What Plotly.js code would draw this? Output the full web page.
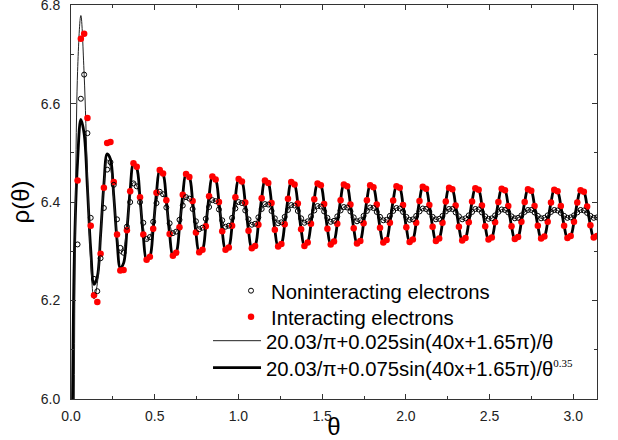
<!DOCTYPE html>
<html>
<head>
<meta charset="utf-8">
<script src="https://cdn.plot.ly/plotly-3.0.1.min.js"></script>
<style>html,body{margin:0;padding:0;background:#fff;}#chart{width:618px;height:440px;}</style>
</head>
<body>
<div id="chart"></div>
<script>
// Samples are evenly spaced in theta: theta_k = k * STEP, k = 0..160
const STEP = Math.PI / 160;

// Noninteracting electrons (open circles)
const NONINTERACTING = [
  null, null, 6.314, 6.610, 6.659, 6.540, 6.368, 6.244,
  6.219, 6.286, 6.388, 6.466, 6.481, 6.435, 6.365, 6.307,
  6.297, 6.350, 6.400, 6.438, 6.432, 6.400, 6.358, 6.325,
  6.329, 6.360, 6.398, 6.421, 6.416, 6.389, 6.357, 6.337,
  6.340, 6.364, 6.393, 6.410, 6.407, 6.386, 6.361, 6.345,
  6.348, 6.366, 6.390, 6.404, 6.402, 6.385, 6.363, 6.350,
  6.352, 6.368, 6.387, 6.400, 6.398, 6.383, 6.365, 6.354,
  6.356, 6.369, 6.386, 6.396, 6.395, 6.382, 6.367, 6.357,
  6.359, 6.370, 6.384, 6.394, 6.393, 6.382, 6.367, 6.358,
  6.361, 6.371, 6.383, 6.392, 6.391, 6.381, 6.368, 6.360,
  6.362, 6.371, 6.383, 6.390, 6.389, 6.381, 6.369, 6.361,
  6.363, 6.372, 6.382, 6.389, 6.388, 6.380, 6.370, 6.363,
  6.364, 6.372, 6.382, 6.388, 6.387, 6.380, 6.370, 6.364,
  6.365, 6.372, 6.381, 6.387, 6.386, 6.380, 6.370, 6.365,
  6.366, 6.372, 6.381, 6.386, 6.386, 6.379, 6.371, 6.365,
  6.367, 6.373, 6.380, 6.386, 6.385, 6.379, 6.371, 6.366,
  6.367, 6.373, 6.380, 6.385, 6.384, 6.379, 6.371, 6.367,
  6.368, 6.373, 6.380, 6.384, 6.384, 6.379, 6.372, 6.367,
  6.368, 6.373, 6.380, 6.384, 6.383, 6.378, 6.372, 6.368,
  6.369, 6.373, 6.379, 6.384, 6.383, 6.378, 6.372, 6.368,
  6.369
];

// Interacting electrons (red dots)
const INTERACTING = [
  null, null, 6.444, 6.732, 6.742, 6.571, 6.352, 6.211,
  6.197, 6.295, 6.429, 6.520, 6.522, 6.441, 6.334, 6.261,
  6.262, 6.343, 6.422, 6.479, 6.472, 6.410, 6.334, 6.283,
  6.289, 6.346, 6.419, 6.465, 6.458, 6.404, 6.335, 6.291,
  6.297, 6.349, 6.415, 6.457, 6.451, 6.402, 6.338, 6.298,
  6.303, 6.351, 6.412, 6.452, 6.446, 6.400, 6.341, 6.303,
  6.308, 6.352, 6.410, 6.447, 6.442, 6.399, 6.342, 6.306,
  6.311, 6.354, 6.408, 6.444, 6.439, 6.398, 6.344, 6.310,
  6.315, 6.355, 6.407, 6.441, 6.436, 6.397, 6.345, 6.311,
  6.318, 6.356, 6.406, 6.438, 6.434, 6.396, 6.346, 6.314,
  6.320, 6.356, 6.404, 6.436, 6.432, 6.395, 6.347, 6.316,
  6.321, 6.357, 6.404, 6.434, 6.430, 6.395, 6.348, 6.318,
  6.323, 6.358, 6.403, 6.432, 6.429, 6.394, 6.349, 6.319,
  6.324, 6.358, 6.402, 6.431, 6.427, 6.394, 6.350, 6.321,
  6.326, 6.358, 6.401, 6.429, 6.426, 6.393, 6.350, 6.322,
  6.327, 6.359, 6.401, 6.428, 6.425, 6.393, 6.351, 6.324,
  6.328, 6.359, 6.400, 6.427, 6.424, 6.392, 6.351, 6.325,
  6.329, 6.360, 6.400, 6.426, 6.423, 6.392, 6.352, 6.326,
  6.330, 6.360, 6.399, 6.425, 6.422, 6.392, 6.352, 6.327,
  6.331, 6.360, 6.399, 6.424, 6.421, 6.391, 6.353, 6.328,
  6.331
];

// Thin fitted curve
const FIT_THIN = [
  null, 5.982, 6.665, 6.779, 6.659, 6.455, 6.279, 6.203,
  6.234, 6.332, 6.434, 6.486, 6.470, 6.406, 6.335, 6.295,
  6.305, 6.353, 6.408, 6.440, 6.433, 6.395, 6.350, 6.323,
  6.329, 6.360, 6.398, 6.421, 6.416, 6.389, 6.357, 6.337,
  6.340, 6.364, 6.393, 6.410, 6.407, 6.386, 6.361, 6.345,
  6.348, 6.366, 6.390, 6.404, 6.402, 6.385, 6.363, 6.350,
  6.352, 6.368, 6.387, 6.400, 6.398, 6.383, 6.365, 6.354,
  6.356, 6.369, 6.386, 6.396, 6.395, 6.382, 6.367, 6.357,
  6.359, 6.370, 6.384, 6.394, 6.393, 6.382, 6.367, 6.358,
  6.361, 6.371, 6.383, 6.392, 6.391, 6.381, 6.368, 6.360,
  6.362, 6.371, 6.383, 6.390, 6.389, 6.381, 6.369, 6.361,
  6.363, 6.372, 6.382, 6.389, 6.388, 6.380, 6.370, 6.363,
  6.364, 6.372, 6.382, 6.388, 6.387, 6.380, 6.370, 6.364,
  6.365, 6.372, 6.381, 6.387, 6.386, 6.380, 6.370, 6.365,
  6.366, 6.372, 6.381, 6.386, 6.386, 6.379, 6.371, 6.365,
  6.367, 6.373, 6.380, 6.386, 6.385, 6.379, 6.371, 6.366,
  6.367, 6.373, 6.380, 6.385, 6.384, 6.379, 6.371, 6.367,
  6.368, 6.373, 6.380, 6.384, 6.384, 6.379, 6.372, 6.367,
  6.368, 6.373, 6.380, 6.384, 6.383, 6.378, 6.372, 6.368,
  6.369, 6.373, 6.379, 6.384, 6.383, 6.378, 6.372, 6.368,
  6.369
];

// Thick fitted curve (first point lies below the axis)
const FIT_THICK = [
  5.500, 6.284, 6.482, 6.568, 6.539, 6.428, 6.304, 6.233,
  6.248, 6.333, 6.436, 6.498, 6.487, 6.413, 6.322, 6.266,
  6.276, 6.342, 6.425, 6.477, 6.469, 6.407, 6.330, 6.282,
  6.289, 6.346, 6.419, 6.465, 6.458, 6.404, 6.335, 6.291,
  6.297, 6.349, 6.415, 6.457, 6.451, 6.402, 6.338, 6.298,
  6.303, 6.351, 6.412, 6.452, 6.446, 6.400, 6.341, 6.303,
  6.308, 6.352, 6.410, 6.447, 6.442, 6.399, 6.342, 6.306,
  6.311, 6.354, 6.408, 6.444, 6.439, 6.398, 6.344, 6.310,
  6.315, 6.355, 6.407, 6.441, 6.436, 6.397, 6.345, 6.311,
  6.318, 6.356, 6.406, 6.438, 6.434, 6.396, 6.346, 6.314,
  6.320, 6.356, 6.404, 6.436, 6.432, 6.395, 6.347, 6.316,
  6.321, 6.357, 6.404, 6.434, 6.430, 6.395, 6.348, 6.318,
  6.323, 6.358, 6.403, 6.432, 6.429, 6.394, 6.349, 6.319,
  6.324, 6.358, 6.402, 6.431, 6.427, 6.394, 6.350, 6.321,
  6.326, 6.358, 6.401, 6.429, 6.426, 6.393, 6.350, 6.322,
  6.327, 6.359, 6.401, 6.428, 6.425, 6.393, 6.351, 6.324,
  6.328, 6.359, 6.400, 6.427, 6.424, 6.392, 6.351, 6.325,
  6.329, 6.360, 6.400, 6.426, 6.423, 6.392, 6.352, 6.326,
  6.330, 6.360, 6.399, 6.425, 6.422, 6.392, 6.352, 6.327,
  6.331, 6.360, 6.399, 6.424, 6.421, 6.391, 6.353, 6.328,
  6.331
];

const NAMES = [
  'Noninteracting electrons',
  'Interacting electrons',
  '20.03/π+0.025sin(40x+1.65π)/θ',
  '20.03/π+0.075sin(40x+1.65π)/θ<sup><span style="font-family:Liberation Serif;font-size:11px">0.35</span></sup>'
];

const FONT = 'Liberation Sans, Arial, sans-serif';

const traces = [
  {
    type: 'scatter', mode: 'lines', name: NAMES[3], legend: 'legend4',
    x0: 0, dx: STEP, y: FIT_THICK,
    line: {color: '#000', width: 2.8, shape: 'spline', smoothing: 1}
  },
  {
    type: 'scatter', mode: 'lines', name: NAMES[2], legend: 'legend3',
    x0: 0, dx: STEP, y: FIT_THIN,
    line: {color: '#222', width: 1, shape: 'spline', smoothing: 1}
  },
  {
    type: 'scatter', mode: 'markers', name: NAMES[1], legend: 'legend2',
    x0: 0, dx: STEP, y: INTERACTING,
    marker: {symbol: 'circle', color: '#ff0000', size: 6.5, line: {width: 0}}
  },
  {
    type: 'scatter', mode: 'markers', name: NAMES[0], legend: 'legend',
    x0: 0, dx: STEP, y: NONINTERACTING,
    marker: {symbol: 'circle-open', color: '#000', size: 5, line: {width: 1, color: '#000'}}
  }
];

const axisCommon = {
  showgrid: false, zeroline: false,
  showline: true, linecolor: '#333', linewidth: 1, mirror: 'ticks',
  ticks: 'inside', ticklen: 5, tickwidth: 1, tickcolor: '#333',
  tickfont: {family: FONT, size: 14, color: '#222'},
  tickformat: '.1f',
  ticklabeloverflow: 'allow'
};

function legendAt(x, y, w) {
  return {
    x: x, y: y, xanchor: 'left', yanchor: 'top',
    bgcolor: 'rgba(0,0,0,0)', borderwidth: 0,
    itemwidth: w, tracegroupgap: 0,
    font: {family: FONT, size: 20.3, color: '#000'}
  };
}

const layout = {
  width: 618, height: 440,
  margin: {l: 71, r: 21, t: 5, b: 41, pad: 0},
  paper_bgcolor: '#fff', plot_bgcolor: '#fff',
  font: {family: FONT, color: '#000'},
  showlegend: true,
  legend: legendAt(0.3042, 0.3249, 30),
  legend2: legendAt(0.3042, 0.2589, 30),
  legend3: legendAt(0.2605, 0.1980, 48),
  legend4: legendAt(0.2605, 0.1294, 48),
  xaxis: Object.assign({}, axisCommon, {
    range: [0, Math.PI], tick0: 0, dtick: 0.5,
    ticklabelstandoff: 4,
    minor: {dtick: 0.25, ticks: 'inside', ticklen: 3, tickcolor: '#333'},
    title: {text: 'θ', font: {family: FONT, size: 24, color: '#000'}, standoff: 11}
  }),
  yaxis: Object.assign({}, axisCommon, {
    range: [6.0, 6.8004], tick0: 6.0, dtick: 0.2,
    ticklabelstandoff: 7,
    minor: {dtick: 0.1, ticks: 'inside', ticklen: 3, tickcolor: '#333'},
    title: {text: 'ρ(θ)', font: {family: FONT, size: 24, color: '#000'}, standoff: 4}
  })
};

Plotly.newPlot('chart', traces, layout, {displayModeBar: false, staticPlot: true});
</script>
</body>
</html>
